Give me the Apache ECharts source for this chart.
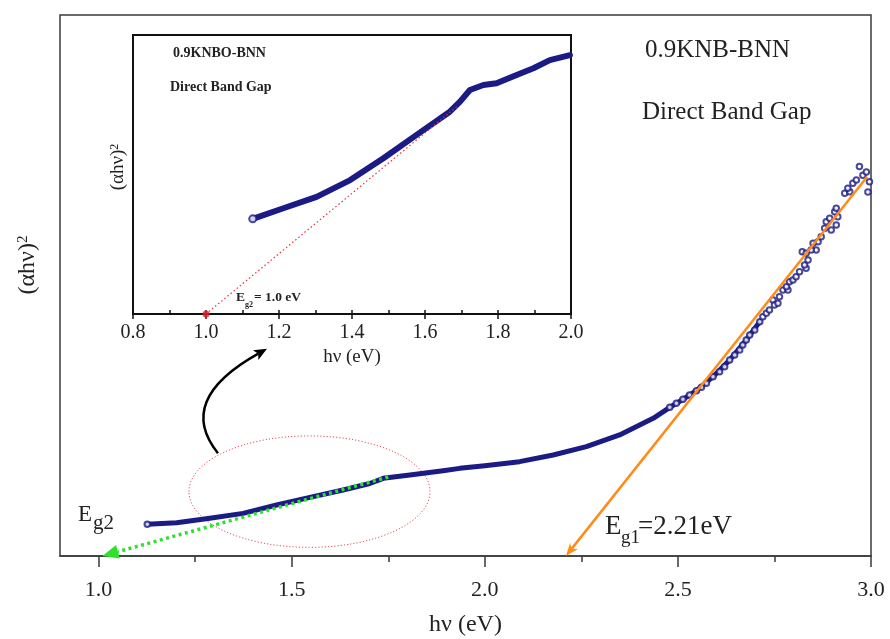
<!DOCTYPE html>
<html>
<head>
<meta charset="utf-8">
<script src="https://cdn.jsdelivr.net/npm/echarts@6/dist/echarts.min.js"></script>
<style>
html,body{margin:0;padding:0;background:#fff}
#chart{width:890px;height:639px}
</style>
</head>
<body>
<div id="chart"></div>
<script>
const SERIF = '"Liberation Serif","Times New Roman",serif';
const NAVY = '#1b1b85';

// Main plot: hν (eV) and (αhν)² (arb. units), dense part of the curve
const bandHv = [1.126, 1.202, 1.288, 1.374, 1.461, 1.547, 1.633, 1.702, 1.737, 1.806, 1.892, 1.935, 2.000, 2.090, 2.177, 2.263, 2.349, 2.436, 2.479, 2.513, 2.548, 2.591, 2.634, 2.677, 2.712];
const bandAlpha = [5.85, 6.16, 6.96, 7.88, 9.43, 10.84, 12.2, 13.4, 14.36, 14.97, 15.77, 16.2, 16.7, 17.44, 18.67, 20.21, 22.37, 25.45, 27.48, 28.96, 30.56, 33.15, 36.23, 39.93, 43.32];

// Main plot: scattered points near the absorption edge
const scatterHv = [2.479, 2.496, 2.513, 2.530, 2.548, 2.561, 2.574, 2.591, 2.608, 2.621, 2.634, 2.647, 2.660, 2.668, 2.677, 2.686, 2.699, 2.712, 2.720, 2.729, 2.737, 2.746, 2.750, 2.759, 2.763, 2.772, 2.785, 2.781, 2.789, 2.798, 2.806, 2.815, 2.832, 2.828, 2.837, 2.822, 2.832, 2.858, 2.845, 2.850, 2.863, 2.871, 2.910, 2.897, 2.880, 2.884, 2.893, 2.914, 2.906, 2.910, 2.932, 2.945, 2.940, 2.953, 2.992, 2.996, 2.962, 2.979, 2.988, 2.970];
const scatterAlpha = [27.48, 28.22, 28.96, 29.76, 30.56, 31.18, 31.92, 33.15, 34.08, 35.0, 36.23, 37.16, 38.08, 39.0, 39.93, 40.85, 41.78, 43.32, 44.24, 44.86, 45.47, 47.32, 46.4, 46.71, 47.94, 49.17, 49.17, 49.79, 50.71, 51.02, 51.64, 52.56, 53.18, 53.8, 54.72, 56.26, 55.95, 56.57, 56.57, 57.8, 58.1, 59.03, 61.19, 60.26, 60.57, 61.8, 62.42, 62.73, 63.65, 64.27, 67.04, 67.35, 67.96, 68.9, 67.3, 69.2, 69.5, 70.4, 71.0, 72.0];

// Inset: low-energy part of the same measurement
const insetHv = [1.128, 1.212, 1.303, 1.395, 1.486, 1.577, 1.668, 1.696, 1.723, 1.760, 1.796, 1.851, 1.897, 1.942, 1.997];
const insetAlpha = [34.1, 37.9, 42.0, 48.0, 55.8, 64.2, 72.5, 76.1, 80.3, 82.1, 82.7, 85.7, 88.1, 91.0, 92.8];

// Band-gap extrapolations (hν, (αhν)²)
const EG1 = 2.21;
const eg1Fit = [[2.99, 70.1], [EG1, 0]];
const eg2MainFit = [[1.75, 14.6], [1.01, 0]];
const EG2 = 1.0;
const eg2InsetFit = [[1.687, 74.3], [EG2, 0]];

// Annotations in data units of the main plot
const zoomEllipse = [1.546, 11.9, 0.312, 10.3];          // centre x, centre y, radius x, radius y
const insetPointer = [1.309, 19.0, 1.198, 28.8, 1.436, 38.3]; // start, control, end

// Axis ticks
const mainTicks = [1.0, 1.5, 2.0, 2.5, 3.0];
const mainMinorTicks = [1.25, 1.75, 2.25, 2.75];

const zip = (xs, ys) => xs.map((x, i) => [x, ys[i]]);

function arrowSeries(seg, color, width, dash, headLen, headW, notch, xi, yi) {
  return {
    type: 'custom', xAxisIndex: xi, yAxisIndex: yi, silent: true, z: 5,
    data: [[seg[0][0], seg[0][1], seg[1][0], seg[1][1]]],
    renderItem: function (params, api) {
      const p0 = api.coord([api.value(0), api.value(1)]);
      const p1 = api.coord([api.value(2), api.value(3)]);
      const dx = p1[0] - p0[0], dy = p1[1] - p0[1];
      const len = Math.hypot(dx, dy);
      const ux = dx / len, uy = dy / len, nx = -uy, ny = ux;
      const bx = p1[0] - ux * headLen, by = p1[1] - uy * headLen;
      const children = [{
        type: 'line',
        shape: { x1: p0[0], y1: p0[1], x2: headLen ? bx + ux * headLen * notch : p1[0], y2: headLen ? by + uy * headLen * notch : p1[1] },
        style: { stroke: color, lineWidth: width, lineDash: dash || null, fill: null }
      }];
      if (headLen) {
        children.push({
          type: 'polygon',
          shape: { points: [[p1[0], p1[1]], [bx + nx * headW, by + ny * headW], [bx + ux * headLen * notch, by + uy * headLen * notch], [bx - nx * headW, by - ny * headW]] },
          style: { fill: color, stroke: null }
        });
      }
      return { type: 'group', children: children };
    }
  };
}

const chart = echarts.init(document.getElementById('chart'), null, { renderer: 'canvas' });

const option = {
  animation: false,
  backgroundColor: '#fff',
  grid: [
    { left: 60, top: 15, width: 811, height: 541, show: true, borderColor: '#3a3a3a', borderWidth: 1.5, backgroundColor: 'transparent', containLabel: false, outerBoundsMode: 'none' },
    { left: 133, top: 35, width: 438, height: 279, show: true, borderColor: '#111', borderWidth: 2, backgroundColor: 'transparent', containLabel: false, outerBoundsMode: 'none' }
  ],
  xAxis: [
    {
      gridIndex: 0, type: 'value', min: 0.9, max: 3.0, position: 'bottom',
      axisLine: { show: true, lineStyle: { color: '#3a3a3a', width: 1.5 } },
      axisTick: { show: true, customValues: mainTicks, length: 11, lineStyle: { color: '#3a3a3a', width: 1.5 } },
      axisLabel: { customValues: mainTicks, formatter: v => v.toFixed(1), fontFamily: SERIF, fontSize: 22, color: '#222', margin: 23 },
      splitLine: { show: false },
      name: 'hν (eV)', nameLocation: 'middle', nameGap: 57,
      nameTextStyle: { fontFamily: SERIF, fontSize: 24, color: '#222' }
    },
    {
      gridIndex: 0, type: 'value', min: 0.9, max: 3.0, position: 'bottom',
      axisLine: { show: false },
      axisTick: { show: true, customValues: mainMinorTicks, length: 6, lineStyle: { color: '#3a3a3a', width: 1.5 } },
      axisLabel: { show: false }, splitLine: { show: false }
    },
    {
      gridIndex: 1, type: 'value', min: 0.8, max: 2.0, interval: 0.2, position: 'bottom',
      axisLine: { show: true, lineStyle: { color: '#111', width: 2 } },
      axisTick: { show: true, length: 5, lineStyle: { color: '#111', width: 1.5 } },
      axisLabel: { formatter: v => v.toFixed(1), fontFamily: SERIF, fontSize: 20, color: '#222', margin: 9 },
      splitLine: { show: false },
      name: 'hν (eV)', nameLocation: 'middle', nameGap: 34,
      nameTextStyle: { fontFamily: SERIF, fontSize: 19, color: '#222' }
    },
    {
      gridIndex: 1, type: 'value', min: 0.8, max: 2.0, interval: 0.1, position: 'bottom',
      axisLine: { show: false },
      axisTick: { show: true, inside: true, length: 4, lineStyle: { color: '#111', width: 1.5 } },
      axisLabel: { show: false }, splitLine: { show: false }
    }
  ],
  yAxis: [
    { gridIndex: 0, type: 'value', min: 0, max: 100, axisLine: { show: false }, axisTick: { show: false }, axisLabel: { show: false }, splitLine: { show: false } },
    { gridIndex: 1, type: 'value', min: 0, max: 100, axisLine: { show: false }, axisTick: { show: false }, axisLabel: { show: false }, splitLine: { show: false } }
  ],
  series: [
    {
      type: 'line', xAxisIndex: 0, yAxisIndex: 0, data: zip(bandHv, bandAlpha),
      symbol: 'none', lineStyle: { color: NAVY, width: 5, cap: 'round', join: 'round' }, z: 3
    },
    {
      type: 'scatter', xAxisIndex: 0, yAxisIndex: 0,
      data: [[bandHv[0], bandAlpha[0]]].concat(zip(scatterHv, scatterAlpha)),
      symbol: 'emptyCircle', symbolSize: 5.5, itemStyle: { color: NAVY, borderWidth: 1.2 }, z: 4
    },
    arrowSeries(eg1Fit, '#ff8c1a', 2.5, null, 13, 5, 0.3, 0, 0),
    arrowSeries(eg2MainFit, '#2fe02f', 3.5, [3, 3.5], 16, 7, 0.0, 0, 0),
    {
      type: 'custom', xAxisIndex: 0, yAxisIndex: 0, silent: true, z: 2,
      data: [zoomEllipse],
      renderItem: function (params, api) {
        const c = api.coord([api.value(0), api.value(1)]);
        const s = api.size([api.value(2), api.value(3)]);
        return { type: 'ellipse', shape: { cx: c[0], cy: c[1], rx: s[0], ry: s[1] }, style: { fill: null, stroke: '#e0505a', lineWidth: 1, lineDash: [1.2, 2] } };
      }
    },
    {
      type: 'custom', xAxisIndex: 0, yAxisIndex: 0, silent: true, z: 5,
      data: [insetPointer],
      renderItem: function (params, api) {
        const p0 = api.coord([api.value(0), api.value(1)]);
        const cp = api.coord([api.value(2), api.value(3)]);
        const p1 = api.coord([api.value(4), api.value(5)]);
        const dx = p1[0] - cp[0], dy = p1[1] - cp[1];
        const len = Math.hypot(dx, dy);
        const ux = dx / len, uy = dy / len, nx = -uy, ny = ux;
        const hl = 13, hw = 5.5;
        const bx = p1[0] - ux * hl, by = p1[1] - uy * hl;
        return {
          type: 'group', children: [
            { type: 'bezierCurve', shape: { x1: p0[0], y1: p0[1], cpx1: cp[0], cpy1: cp[1], x2: bx + ux * 3, y2: by + uy * 3 }, style: { stroke: '#000', lineWidth: 2.5, fill: null } },
            { type: 'polygon', shape: { points: [[p1[0], p1[1]], [bx + nx * hw, by + ny * hw], [bx + ux * 3, by + uy * 3], [bx - nx * hw, by - ny * hw]] }, style: { fill: '#000' } }
          ]
        };
      }
    },
    {
      type: 'line', xAxisIndex: 2, yAxisIndex: 1, data: zip(insetHv, insetAlpha),
      symbol: 'none', lineStyle: { color: NAVY, width: 6, cap: 'round', join: 'round' }, z: 3
    },
    {
      type: 'scatter', xAxisIndex: 2, yAxisIndex: 1, data: [[insetHv[0], insetAlpha[0]]],
      symbol: 'emptyCircle', symbolSize: 7, itemStyle: { color: NAVY, borderWidth: 1.3 }, z: 4
    },
    arrowSeries(eg2InsetFit, '#e8303a', 1.2, [1.5, 2.5], 0, 0, 0, 2, 1),
    {
      type: 'scatter', xAxisIndex: 2, yAxisIndex: 1, data: [[EG2, 0]],
      symbol: 'circle', symbolSize: 7, itemStyle: { color: '#ee1c25' }, z: 6
    }
  ],
  graphic: [
    { type: 'text', x: 28, y: 265, rotation: Math.PI / 2, style: { text: '{a|(αhν)}{b|2}', align: 'center', verticalAlign: 'middle', rich: { a: { fontFamily: SERIF, fontSize: 24, fill: '#222' }, b: { fontFamily: SERIF, fontSize: 15, fill: '#222', verticalAlign: 'top' } } } },
    { type: 'text', x: 645, y: 50, style: { text: '0.9KNB-BNN', fontFamily: SERIF, fontSize: 25, fill: '#222', verticalAlign: 'middle' } },
    { type: 'text', x: 642, y: 112, style: { text: 'Direct Band Gap', fontFamily: SERIF, fontSize: 25, fill: '#222', verticalAlign: 'middle' } },
    { type: 'text', x: 78, y: 515, style: { text: 'E', fontFamily: SERIF, fontSize: 23, fill: '#222', verticalAlign: 'middle' } },
    { type: 'text', x: 93, y: 523, style: { text: 'g2', fontFamily: SERIF, fontSize: 21, fill: '#222', verticalAlign: 'middle' } },
    { type: 'text', x: 605, y: 527, style: { text: 'E', fontFamily: SERIF, fontSize: 27, fill: '#222', verticalAlign: 'middle' } },
    { type: 'text', x: 621, y: 538, style: { text: 'g1', fontFamily: SERIF, fontSize: 19, fill: '#222', verticalAlign: 'middle' } },
    { type: 'text', x: 638, y: 527, style: { text: '=' + EG1.toFixed(2) + 'eV', fontFamily: SERIF, fontSize: 27, fill: '#222', verticalAlign: 'middle' } },
    { type: 'text', x: 118, y: 167, rotation: Math.PI / 2, style: { text: '{a|(αhν)}{b|2}', align: 'center', verticalAlign: 'middle', rich: { a: { fontFamily: SERIF, fontSize: 19, fill: '#222' }, b: { fontFamily: SERIF, fontSize: 12, fill: '#222', verticalAlign: 'top' } } } },
    { type: 'text', x: 173, y: 53, style: { text: '0.9KNBO-BNN', fontFamily: SERIF, fontWeight: 'bold', fontSize: 14, fill: '#222', verticalAlign: 'middle' } },
    { type: 'text', x: 170, y: 87, style: { text: 'Direct Band Gap', fontFamily: SERIF, fontWeight: 'bold', fontSize: 14, fill: '#222', verticalAlign: 'middle' } },
    { type: 'text', x: 236, y: 298, style: { text: 'E', fontFamily: SERIF, fontWeight: 'bold', fontSize: 13.5, fill: '#222', verticalAlign: 'middle' } },
    { type: 'text', x: 245, y: 305, style: { text: 'g2', fontFamily: SERIF, fontWeight: 'bold', fontSize: 8, fill: '#222', verticalAlign: 'middle' } },
    { type: 'text', x: 254, y: 298, style: { text: '= ' + EG2.toFixed(1) + ' eV', fontFamily: SERIF, fontWeight: 'bold', fontSize: 13.5, fill: '#222', verticalAlign: 'middle' } }
  ]
};

chart.setOption(option);
</script>
</body>
</html>
